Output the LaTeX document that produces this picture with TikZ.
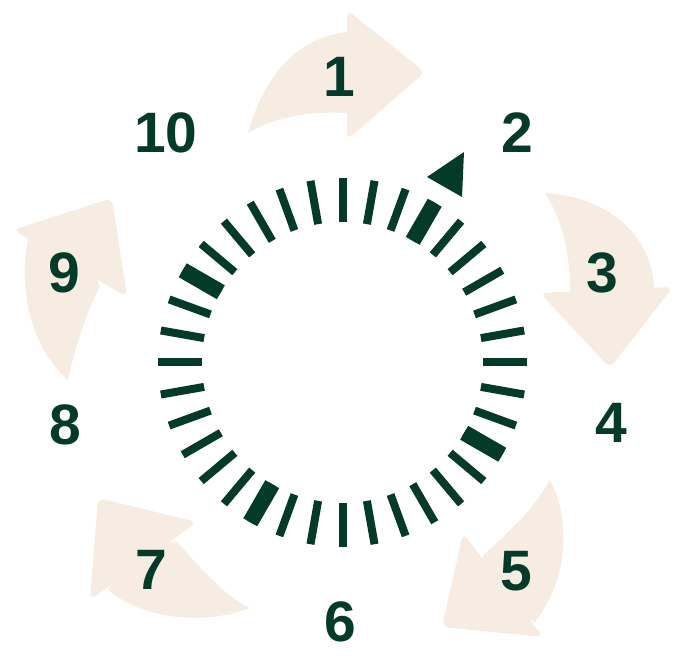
\documentclass[tikz,border=0pt]{standalone}
\usepackage{fontspec}
\setmainfont{Liberation Sans}
\usetikzlibrary{calc}
\definecolor{pine}{HTML}{033A28}
\definecolor{sand}{HTML}{F6ECE2}

\begin{document}
\begin{tikzpicture}[
    x=1pt, y=1pt,
    tick/.style={draw=pine, line width=8pt},
    bigtick/.style={draw=pine, line width=16pt},
    body/.style={fill=sand},
    head/.style={fill=sand, rounded corners=7pt},
    num/.style={font=\fontsize{57}{57}\selectfont\bfseries, text=pine, inner sep=0pt}
]
\useasboundingbox (0,0) rectangle (682,667);
\coordinate (c) at (342.5,304.5);

% === Curved arrows ===

% Arrow 1 (top)
\fill[body] (248,534) .. controls (265,595) and (300,630) .. (347,635)
    -- (373,593) -- (347,554) .. controls (310,556) and (275,550) .. (248,534) -- cycle;
\fill[head] (347,657) -- (425,595) -- (347,527) -- cycle;

% Arrow 3 (right)
\fill[body] (545,474) .. controls (610,470) and (652,430) .. (654,379)
    -- (608,351) -- (570,376) .. controls (570,420) and (560,450) .. (545,474) -- cycle;
\fill[head] (540,374) -- (673,380) -- (610,299) -- cycle;

% Arrow 5 (bottom right)
\fill[body] (550,187) .. controls (570,150) and (570,90) .. (535,45)
    -- (483,68) -- (483,112) .. controls (510,135) and (535,160) .. (550,187) -- cycle;
\fill[head] (463,134) -- (442,40) -- (543,30) -- cycle;

% Arrow 7 (bottom left)
\fill[body] (250,59) .. controls (225,70) and (200,100) .. (177,125)
    -- (128,127) -- (108,77) .. controls (140,50) and (200,40) .. (250,59) -- cycle;
\fill[head] (98,169) -- (197,145) -- (90,67) -- cycle;

% Arrow 9 (left)
\fill[body] (68,287) .. controls (30,320) and (18,380) .. (28,428)
    -- (84,425) -- (100,380) .. controls (88,360) and (75,320) .. (68,287) -- cycle;
\fill[head] (13,437) -- (112,469) -- (127,370) -- cycle;

% === Dial ===

% Ticks every 10 degrees
\foreach \a in {0,10,...,350}
    \draw[tick, shift={(c)}] (\a:140.5) -- (\a:184.5);

% Wide ticks
\foreach \a in {60,-30,-120,150}
    \draw[bigtick, shift={(c)}] (\a:140.5) -- (\a:184.5);

% Marker
\fill[pine] (427,490) -- (464,515) -- (462,470) -- cycle;

% === Numbers ===
\node[num] (n1) at (339,590) {1};
\node[num] (n2) at (517,534) {2};
\node[num] (n3) at (602,394) {3};
\node[num] (n4) at (611,244) {4};
\node[num] (n5) at (516,96) {5};
\node[num] (n6) at (340,45) {6};
\node[num] (n7) at (151,97) {7};
\node[num] (n8) at (65,242) {8};
\node[num] (n9) at (64,394) {9};
\node[num] (n10) at (166,534) {10};

\end{tikzpicture}
\end{document}
